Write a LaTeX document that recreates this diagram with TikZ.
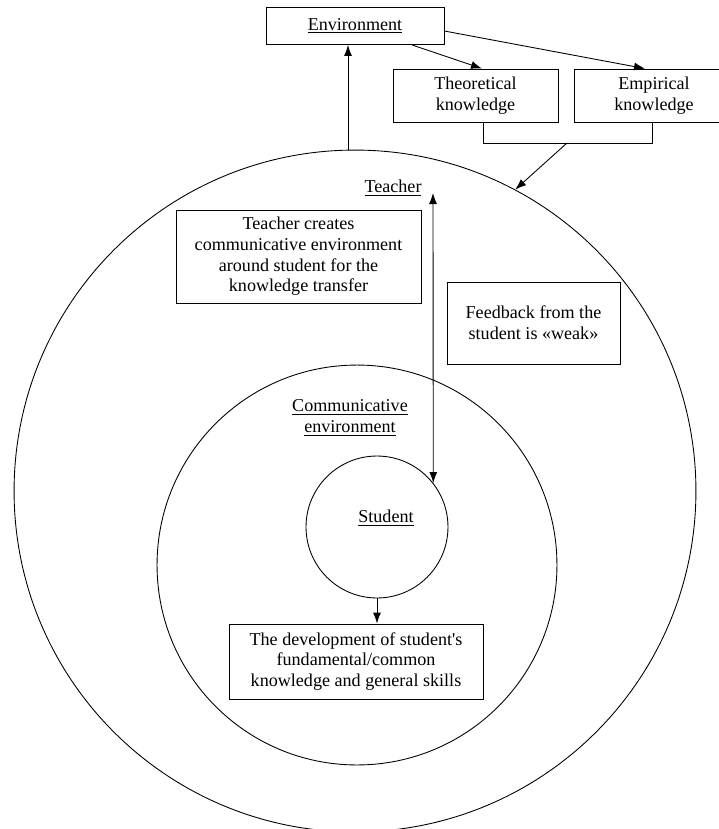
\documentclass[tikz,border=0pt]{standalone}
\usepackage{fontspec}
\setmainfont{Liberation Serif}
\usetikzlibrary{arrows.meta}
\tikzset{box/.style={draw, align=center, inner sep=0pt}}
\tikzset{ring/.style={draw, circle, inner sep=0pt}}
\tikzset{arr/.style={-{Latex[length=2.2mm,width=1.6mm]}}}
\tikzset{darr/.style={{Latex[length=2.2mm,width=1.6mm]}-{Latex[length=2.2mm,width=1.6mm]}}}

\begin{document}
\begin{tikzpicture}[x=0.02cm, y=-0.02cm, font=\fontsize{10.3}{11.8}\selectfont, line width=0.5pt]
\useasboundingbox (0,0) rectangle (718,829);

% circles
\node[ring, minimum size=13.64cm] (outer) at (355,491) {};
\node[ring, minimum size=8cm] (middle) at (357,565) {};
\node[ring, minimum size=2.84cm] (student) at (377,527) {};

% labels
\node (teacher) at (393,188) {\underline{Teacher}};
\node[align=center] (comm) at (350,418) {\underline{Communicative}\\\underline{environment}};
\node (stud) at (386,518) {\underline{Student}};

% boxes
\node[box, minimum width=3.56cm, minimum height=0.74cm] (env) at (355,26) {\underline{Environment}};
\node[box, minimum width=3.3cm, minimum height=1.06cm] (theo) at (475.5,95.5) {Theoretical\\knowledge};
\node[box, minimum width=3.2cm, minimum height=1.06cm] (emp) at (654,95.5) {Empirical\\knowledge};
\node[box, minimum width=4.9cm, minimum height=1.86cm] (creates) at (298.5,256.5) {Teacher creates\\communicative environment\\around student for the\\knowledge transfer};
\node[box, minimum width=3.46cm, minimum height=1.64cm] (feedback) at (533.5,323) {Feedback from the\\student is «weak»};
\node[box, minimum width=5.08cm, minimum height=1.5cm] (dev) at (356,661.5) {The development of student\textquotesingle s\\fundamental/common\\knowledge and general skills};

% arrows
\coordinate (tch) at (433,193);
\coordinate (kn) at (567,143);
\draw[arr] ([xshift=-.14cm]outer.north) -- ([xshift=-.14cm]env.south);
\draw[arr] ([xshift=1.14cm]env.south) -- ([xshift=.13cm]theo.north);
\draw[arr] ([yshift=-.1cm]env.east) -- ([xshift=-.18cm]emp.north);
\draw ([xshift=.15cm]theo.south) -- ++(0,21) -| ([xshift=-.04cm]emp.south);
\draw[arr] (kn) -- (outer.62);
\draw[darr] (tch) -- (student.38);
\draw[arr] (student.south) -- (student.south |- dev.north);

\end{tikzpicture}
\end{document}
